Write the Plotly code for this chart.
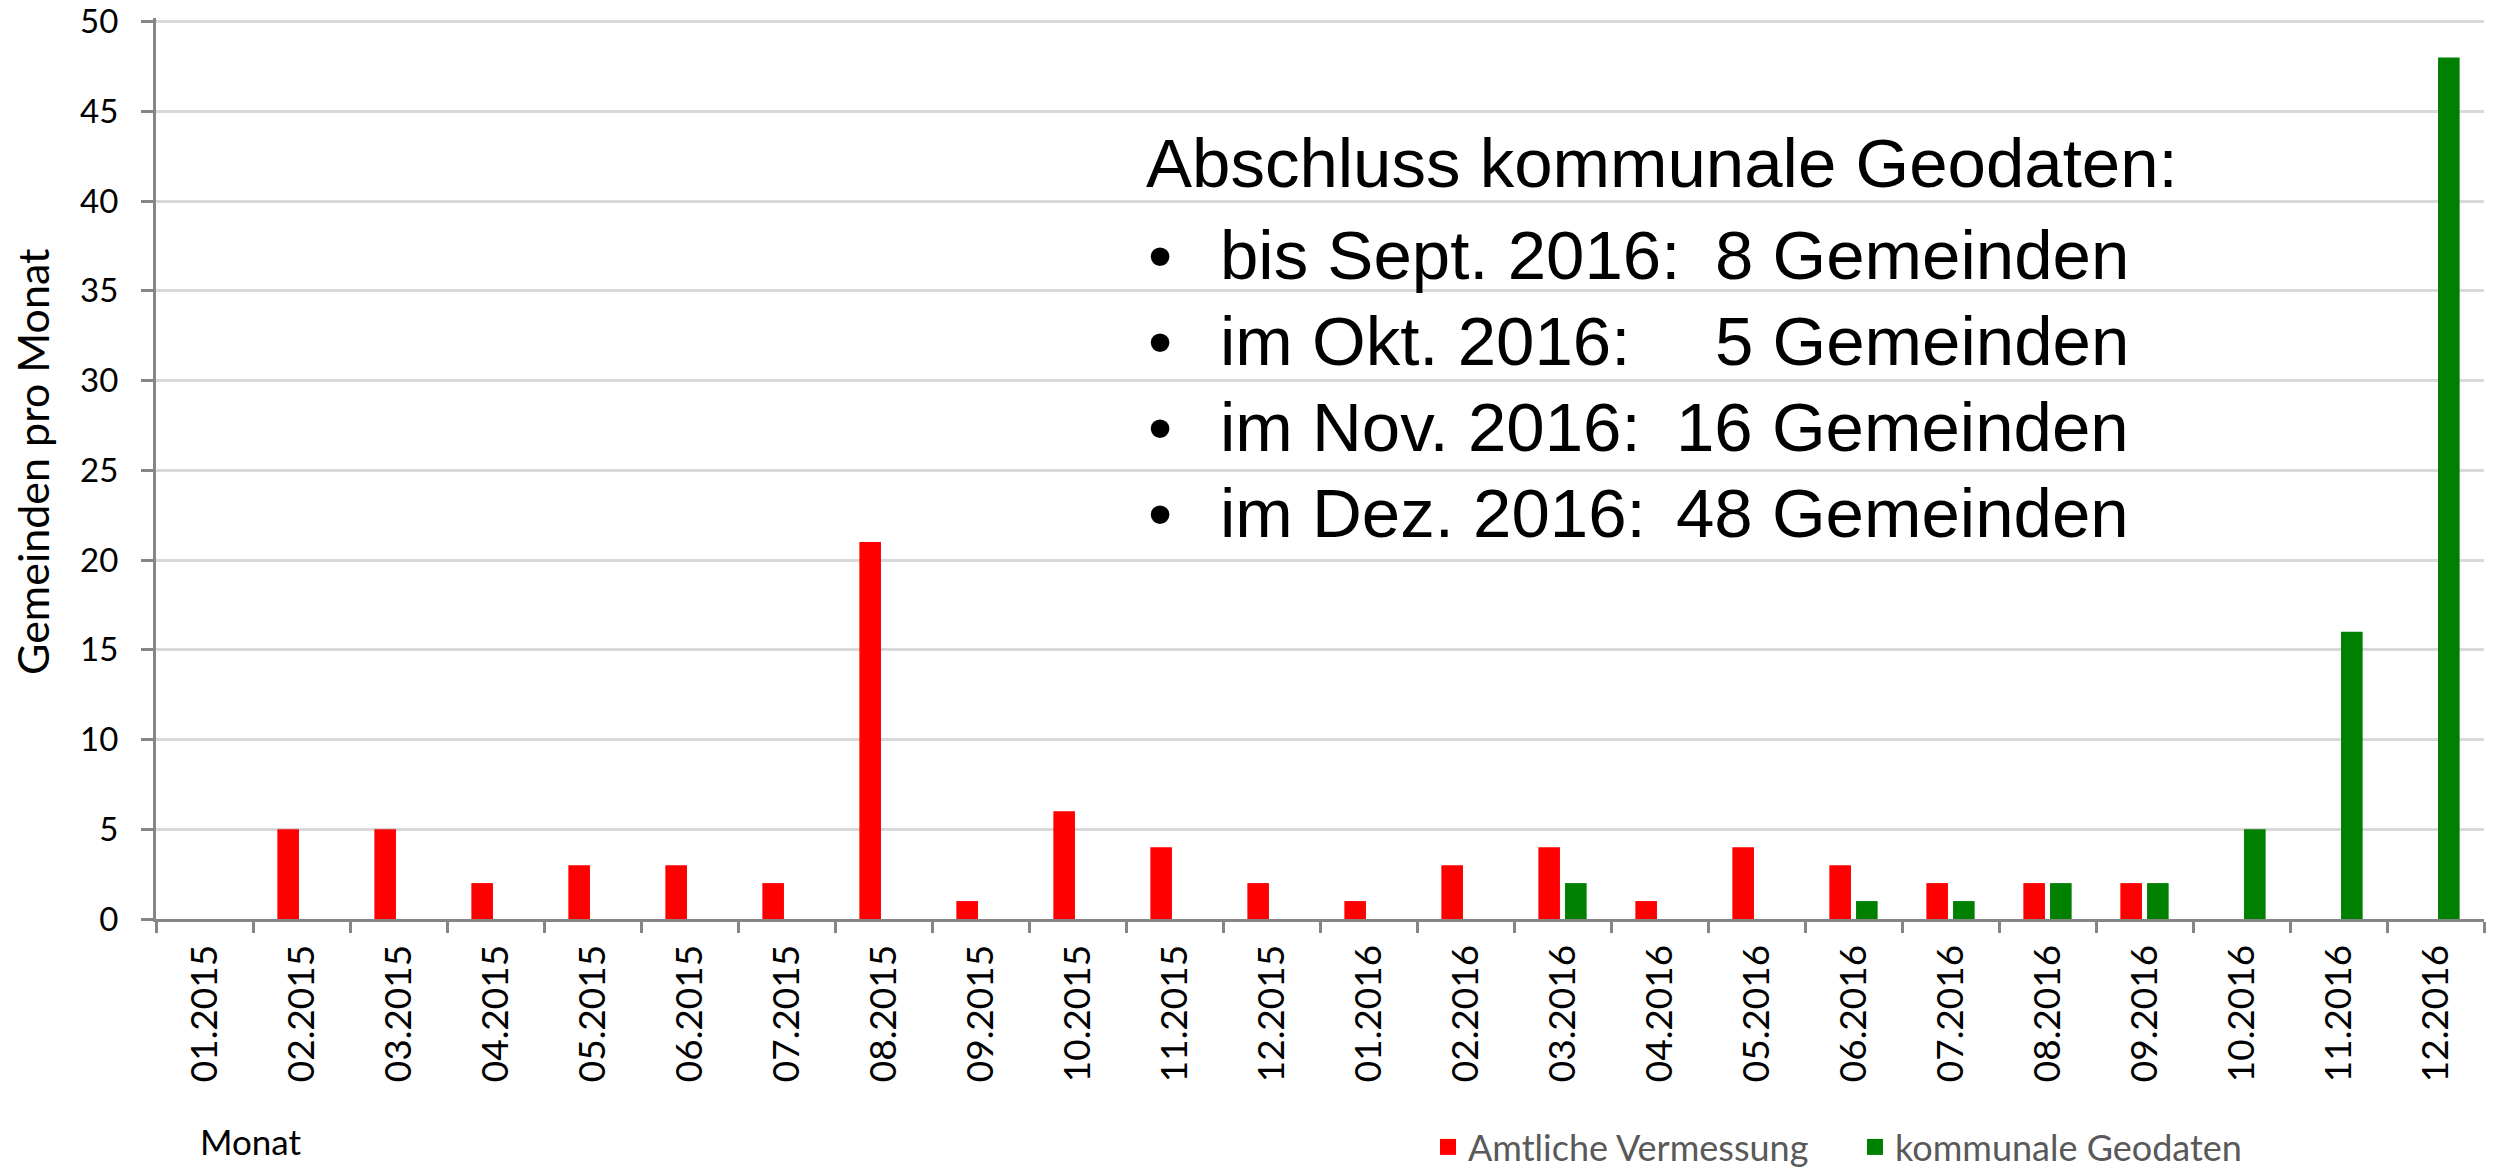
import plotly.graph_objects as go

months = ["01.2015", "02.2015", "03.2015", "04.2015", "05.2015", "06.2015",
          "07.2015", "08.2015", "09.2015", "10.2015", "11.2015", "12.2015",
          "01.2016", "02.2016", "03.2016", "04.2016", "05.2016", "06.2016",
          "07.2016", "08.2016", "09.2016", "10.2016", "11.2016", "12.2016"]
amtliche = [0, 5, 5, 2, 3, 3, 2, 21, 1, 6, 4, 2,
            1, 3, 4, 1, 4, 3, 2, 2, 2, 0, 0, 0]
kommunal = [0, 0, 0, 0, 0, 0, 0, 0, 0, 0, 0, 0,
            0, 0, 2, 0, 0, 1, 1, 2, 2, 5, 16, 48]
y_ticks = list(range(0, 51, 5))

box_title = "Abschluss kommunale Geodaten:"
box_labels = ["bis Sept. 2016:", "im Okt. 2016:", "im Nov. 2016:", "im Dez. 2016:"]
box_values = ["8 Gemeinden", "5 Gemeinden", "16 Gemeinden", "48 Gemeinden"]

# the page body has an 8px default margin, so the figure is offset by OFF
PAGE_W, PAGE_H = 2496, 1169
OFF = 8
W, H = PAGE_W - OFF, PAGE_H - OFF
# plot area in page pixels
L, R, T, B = 156, 2484, 18, 919


def px(x):
    return (x - L) / (R - L)


def py(y):
    return (B - y) / (B - T)


RED = "#FF0000"
GREEN = "#008000"
AXIS = "#868686"
GRID = "#D9D9D9"
BASE_FONT = "Lato, 'Open Sans', sans-serif"

fig = go.Figure()
fig.add_trace(go.Bar(x=months, y=amtliche, name="Amtliche Vermessung",
                     marker=dict(color=RED, line=dict(width=0)), showlegend=False))
fig.add_trace(go.Bar(x=months, y=kommunal, name="kommunale Geodaten",
                     marker=dict(color=GREEN, line=dict(width=0)), showlegend=False))
# legend-only entries with larger square symbols
fig.add_trace(go.Scatter(x=[None], y=[None], mode="markers", name="Amtliche Vermessung",
                         marker=dict(symbol="square", size=21, color=RED)))
fig.add_trace(go.Scatter(x=[None], y=[None], mode="markers", name="kommunale Geodaten",
                         marker=dict(symbol="square", size=21, color=GREEN)))

annotations = []
# y axis title
annotations.append(dict(text="Gemeinden pro Monat", textangle=-90, x=px(32), y=py(462),
                        xref="paper", yref="paper", xanchor="center", yanchor="middle",
                        showarrow=False, font=dict(family=BASE_FONT, size=43, color="#000000")))
# x axis title
annotations.append(dict(text="Monat", x=px(250), y=py(1141), xref="paper", yref="paper",
                        xanchor="center", yanchor="middle", showarrow=False,
                        font=dict(family=BASE_FONT, size=35, color="#000000")))
# info box
ARIAL = "'Liberation Sans', Arial, sans-serif"
BOX_SIZE = 69
annotations.append(dict(text=box_title, x=px(1144), y=py(164), xref="paper", yref="paper",
                        xanchor="left", yanchor="middle", showarrow=False,
                        font=dict(family=ARIAL, size=BOX_SIZE, color="#000000")))
line_y = [255, 341, 427, 513]
for lab, val, yy in zip(box_labels, box_values, line_y):
    annotations.append(dict(text="\u2022", x=px(1160), y=py(yy), xref="paper", yref="paper",
                            xanchor="center", yanchor="middle", showarrow=False,
                            font=dict(family=ARIAL, size=BOX_SIZE, color="#000000")))
    annotations.append(dict(text=lab, x=px(1218), y=py(yy), xref="paper", yref="paper",
                            xanchor="left", yanchor="middle", showarrow=False,
                            font=dict(family=ARIAL, size=BOX_SIZE, color="#000000")))
    annotations.append(dict(text=val, x=px(2131), y=py(yy), xref="paper", yref="paper",
                            xanchor="right", yanchor="middle", showarrow=False,
                            font=dict(family=ARIAL, size=BOX_SIZE, color="#000000")))

fig.update_layout(
    width=W, height=H,
    margin=dict(l=L - OFF, r=PAGE_W - R, t=T - OFF, b=PAGE_H - B, pad=0, autoexpand=False),
    paper_bgcolor="white", plot_bgcolor="white",
    barmode="group", bargap=0.45, bargroupgap=0.19,
    font=dict(family=BASE_FONT, color="#000000"),
    annotations=annotations,
    legend=dict(orientation="h", x=px(1428), y=py(1147), xanchor="left", yanchor="middle",
                font=dict(family=BASE_FONT, size=36, color="#595959"),
                entrywidth=382, entrywidthmode="pixels", itemsizing="trace",
                bgcolor="rgba(0,0,0,0)"),
)
fig.update_xaxes(
    type="category", showline=True, linecolor=AXIS, linewidth=3, automargin=False,
    ticks="outside", tickson="boundaries", ticklen=11, tickcolor=AXIS, tickwidth=3,
    tickangle=-90, tickfont=dict(family=BASE_FONT, size=37, color="#000000"),
    showgrid=False, zeroline=False, ticklabelstandoff=8,
)
fig.update_yaxes(
    range=[0, 50.2], tickvals=y_ticks, showline=True, linecolor=AXIS, linewidth=3,
    automargin=False, ticklabeloverflow="allow",
    ticks="outside", ticklen=12, tickcolor=AXIS, tickwidth=3,
    tickfont=dict(family=BASE_FONT, size=33, color="#000000"),
    showgrid=True, gridcolor=GRID, gridwidth=3, zeroline=False, ticklabelstandoff=16,
)

fig.write_html("out.html")
